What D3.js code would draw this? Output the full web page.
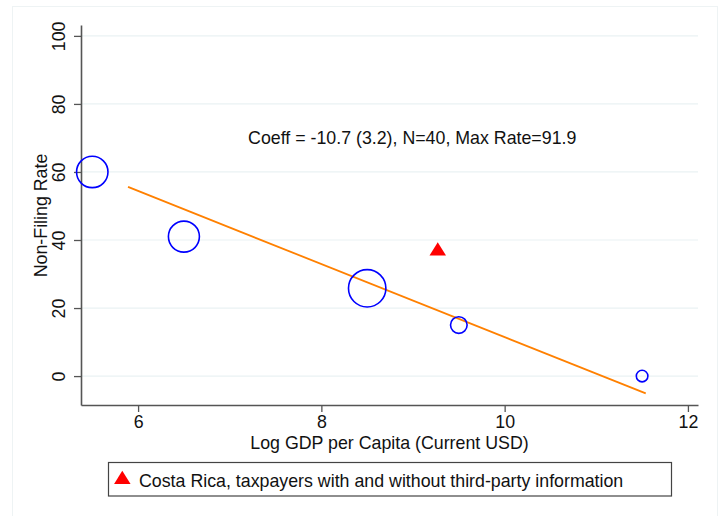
<!DOCTYPE html>
<html>
<head>
<meta charset="utf-8">
<script src="https://cdn.jsdelivr.net/npm/d3@7"></script>
<style>
  body { margin: 0; background: #fff; }
  svg { display: block; font-family: "Liberation Sans", Arial, sans-serif; }
</style>
</head>
<body>
<svg id="chart" width="720" height="516"></svg>
<script>
// bubble points: log gdp, non-filing rate, bubble radius (px)
const gdp = [5.5, 6.5, 8.5, 9.5, 11.5];
const rate = [60, 41, 25.8, 15, 0];
const bubbleR = [15.7, 15.5, 18.7, 8.3, 5.8];

// Costa Rica point
const crGdp = [9.27];
const crRate = [37.4];

// fitted line ends
const fitX = [5.89, 11.54];
const fitY = [55.6, -5.1];

const xTicks = [6, 8, 10, 12];
const yTicks = [0, 20, 40, 60, 80, 100];

const note = "Coeff = -10.7 (3.2), N=40, Max Rate=91.9";
const legendLabel = "Costa Rica, taxpayers with and without third-party information";

const FS = 17.8;
const svg = d3.select("#chart");

// stata style triangle, w x h, centred
function triangle(w, h) {
  return `M0,${-h / 2}L${w / 2},${h / 2}L${-w / 2},${h / 2}Z`;
}

// outer frame (graph region)
svg.append("rect")
  .attr("x", 12.5).attr("y", 6.5)
  .attr("width", 705).attr("height", 520)
  .attr("fill", "none").attr("stroke", "#eef3f4").attr("stroke-width", 1);

const x = d3.scaleLinear().domain([5.377, 12.11]).range([81, 698]);
const y = d3.scaleLinear().domain([-8.5, 103.2]).range([405, 25]);

// grid
svg.append("g")
  .selectAll("line")
  .data(yTicks)
  .join("line")
  .attr("x1", 81).attr("x2", 698)
  .attr("y1", d => y(d)).attr("y2", d => y(d))
  .attr("stroke", "#eaf2f3").attr("stroke-width", 1.2);

// axes
const yAxis = svg.append("g")
  .attr("transform", "translate(81,0)")
  .call(d3.axisLeft(y).tickValues(yTicks).tickFormat(d3.format("d")).tickSize(7).tickSizeOuter(0));
yAxis.selectAll(".tick text")
  .attr("transform", "rotate(-90)")
  .attr("x", 0).attr("y", -16)
  .attr("dy", 0)
  .attr("text-anchor", "middle");

const xAxis = svg.append("g")
  .attr("transform", "translate(0,405)")
  .call(d3.axisBottom(x).tickValues(xTicks).tickFormat(d3.format("d")).tickSize(7).tickSizeOuter(0));
xAxis.selectAll(".tick text").attr("y", 23).attr("dy", 0);

[yAxis, xAxis].forEach(a => {
  a.attr("font-size", FS).attr("font-family", "Liberation Sans, Arial, sans-serif");
  a.select(".domain").attr("stroke", "#555").attr("stroke-width", 1.6);
  a.selectAll(".tick line").attr("stroke", "#555").attr("stroke-width", 1.3);
  a.selectAll(".tick text").attr("fill", "#111");
});

// axis titles
svg.append("text")
  .attr("transform", "translate(47,215.5) rotate(-90)")
  .attr("text-anchor", "middle")
  .attr("font-size", FS).attr("fill", "#111")
  .text("Non-Filing Rate");

svg.append("text")
  .attr("x", 389.5).attr("y", 449)
  .attr("text-anchor", "middle")
  .attr("font-size", FS).attr("fill", "#111")
  .text("Log GDP per Capita (Current USD)");

// fitted line
svg.append("line")
  .attr("x1", x(fitX[0])).attr("y1", y(fitY[0]))
  .attr("x2", x(fitX[1])).attr("y2", y(fitY[1]))
  .attr("stroke", "#ff8000").attr("stroke-width", 1.8);

// bubbles
svg.append("g")
  .selectAll("circle")
  .data(gdp.map((g, i) => ({ g, r: rate[i], s: bubbleR[i] })))
  .join("circle")
  .attr("cx", d => x(d.g)).attr("cy", d => y(d.r)).attr("r", d => d.s)
  .attr("fill", "none").attr("stroke", "#0000ff").attr("stroke-width", 1.6);

// Costa Rica triangle
svg.append("g")
  .selectAll("path")
  .data(crGdp.map((g, i) => ({ g, r: crRate[i] })))
  .join("path")
  .attr("d", triangle(16.5, 13.3))
  .attr("transform", d => `translate(${x(d.g)},${y(d.r)})`)
  .attr("fill", "#ff0000");

// annotation
svg.append("text")
  .attr("x", x(7.2)).attr("y", y(70) + 6)
  .attr("font-size", FS).attr("fill", "#111")
  .text(note);

// legend
const leg = svg.append("g");
leg.append("rect")
  .attr("x", 108.5).attr("y", 462.5)
  .attr("width", 563).attr("height", 33.5)
  .attr("fill", "#fff").attr("stroke", "#444").attr("stroke-width", 1.2);
leg.append("path")
  .attr("d", triangle(16.5, 13.3))
  .attr("transform", "translate(122.3,477.4)")
  .attr("fill", "#ff0000");
leg.append("text")
  .attr("x", 139).attr("y", 486.5)
  .attr("font-size", FS).attr("fill", "#111")
  .text(legendLabel);
</script>
</body>
</html>
